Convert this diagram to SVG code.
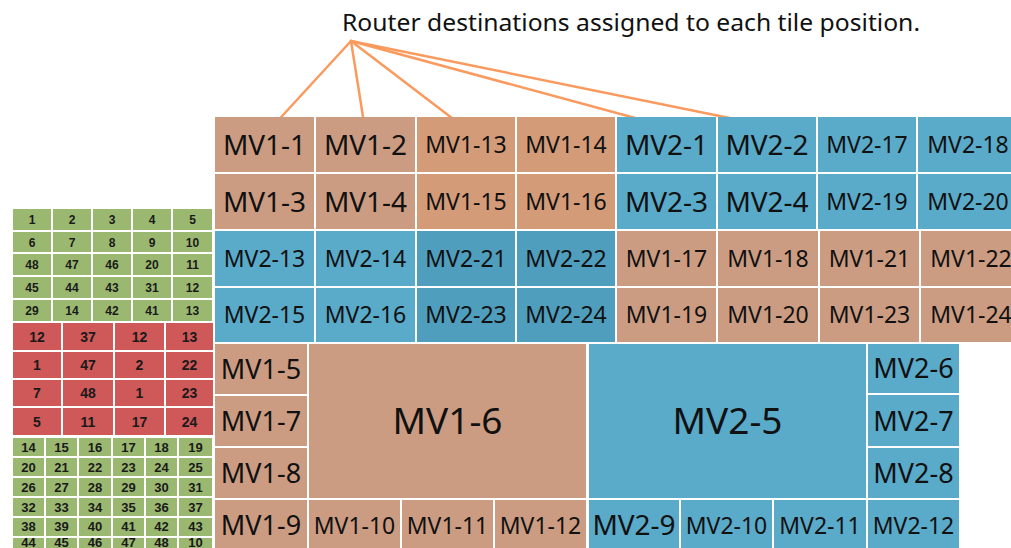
<svg xmlns="http://www.w3.org/2000/svg" width="1011" height="548" viewBox="0 0 1011 548">
<style>
.b{fill:#CC9C82}
.bo{fill:#D49B78}
.u{fill:#5AAAC9}
.ud{fill:#4F9EBE}
.g{fill:#9BB870}
.r{fill:#CF5858}
.t{font-family:"Noto Sans","Open Sans",sans-serif;fill:#111;text-anchor:middle}
.n{font-family:"Liberation Sans",Arial,sans-serif;font-weight:bold;fill:#1a1a1a;text-anchor:middle}
.s11{font-size:12px}.s12{font-size:14px}.s13{font-size:13px}
.f23{font-size:23px}.f27{font-size:27px}.f28{font-size:28px}.f37{font-size:37px}
.c{stroke:#FA9A5E;stroke-width:2.5;fill:none;stroke-linecap:round}
</style>
<rect width="1011" height="548" fill="#fff"/>
<text x="342" y="31" font-family="Noto Sans, Open Sans, sans-serif" font-size="23" fill="#111" textLength="578" lengthAdjust="spacingAndGlyphs">Router destinations assigned to each tile position.</text>
<g id="connectors">
<line class="c" x1="351" y1="41" x2="273" y2="126"/>
<line class="c" x1="351" y1="41" x2="364" y2="123"/>
<line class="c" x1="351" y1="41" x2="465" y2="128"/>
<line class="c" x1="351" y1="41" x2="661" y2="125"/>
<line class="c" x1="351" y1="41" x2="759" y2="124"/>
</g>
<!-- Main tiles row 1 -->
<g id="mv1-1"><rect class="b" x="215" y="117" width="99" height="55"/><text class="t f28" x="264.5" y="154.5">MV1-1</text></g>
<g id="mv1-2"><rect class="b" x="316" y="117" width="99" height="55"/><text class="t f28" x="365.5" y="154.5">MV1-2</text></g>
<g id="mv1-13"><rect class="bo" x="417" y="117" width="98" height="55"/><text class="t f23" x="466" y="152.7">MV1-13</text></g>
<g id="mv1-14"><rect class="bo" x="517" y="117" width="98" height="55"/><text class="t f23" x="566" y="152.7">MV1-14</text></g>
<g id="mv2-1"><rect class="u" x="617" y="117" width="99" height="55"/><text class="t f28" x="666.5" y="154.5">MV2-1</text></g>
<g id="mv2-2"><rect class="u" x="718" y="117" width="98" height="55"/><text class="t f28" x="767" y="154.5">MV2-2</text></g>
<g id="mv2-17"><rect class="u" x="818" y="117" width="98" height="55"/><text class="t f23" x="867" y="152.7">MV2-17</text></g>
<g id="mv2-18"><rect class="u" x="918" y="117" width="100" height="55"/><text class="t f23" x="968" y="152.7">MV2-18</text></g>
<!-- row 2 -->
<g id="mv1-3"><rect class="b" x="215" y="174" width="99" height="55"/><text class="t f28" x="264.5" y="211.5">MV1-3</text></g>
<g id="mv1-4"><rect class="b" x="316" y="174" width="99" height="55"/><text class="t f28" x="365.5" y="211.5">MV1-4</text></g>
<g id="mv1-15"><rect class="bo" x="417" y="174" width="98" height="55"/><text class="t f23" x="466" y="209.7">MV1-15</text></g>
<g id="mv1-16"><rect class="bo" x="517" y="174" width="98" height="55"/><text class="t f23" x="566" y="209.7">MV1-16</text></g>
<g id="mv2-3"><rect class="u" x="617" y="174" width="99" height="55"/><text class="t f28" x="666.5" y="211.5">MV2-3</text></g>
<g id="mv2-4"><rect class="u" x="718" y="174" width="98" height="55"/><text class="t f28" x="767" y="211.5">MV2-4</text></g>
<g id="mv2-19"><rect class="u" x="818" y="174" width="98" height="55"/><text class="t f23" x="867" y="209.7">MV2-19</text></g>
<g id="mv2-20"><rect class="u" x="918" y="174" width="100" height="55"/><text class="t f23" x="968" y="209.7">MV2-20</text></g>
<!-- row 3 -->
<g id="mv2-13"><rect class="u" x="215" y="231" width="99" height="55"/><text class="t f23" x="264.5" y="266.7">MV2-13</text></g>
<g id="mv2-14"><rect class="u" x="316" y="231" width="99" height="55"/><text class="t f23" x="365.5" y="266.7">MV2-14</text></g>
<g id="mv2-21"><rect class="ud" x="417" y="231" width="98" height="55"/><text class="t f23" x="466" y="266.7">MV2-21</text></g>
<g id="mv2-22"><rect class="ud" x="517" y="231" width="98" height="55"/><text class="t f23" x="566" y="266.7">MV2-22</text></g>
<g id="mv1-17"><rect class="b" x="617" y="231" width="99" height="55"/><text class="t f23" x="666.5" y="266.7">MV1-17</text></g>
<g id="mv1-18"><rect class="b" x="718" y="231" width="100" height="55"/><text class="t f23" x="768" y="266.7">MV1-18</text></g>
<g id="mv1-21"><rect class="b" x="820" y="231" width="99" height="55"/><text class="t f23" x="869.5" y="266.7">MV1-21</text></g>
<g id="mv1-22"><rect class="b" x="921" y="231" width="100" height="55"/><text class="t f23" x="971" y="266.7">MV1-22</text></g>
<!-- row 4 -->
<g id="mv2-15"><rect class="u" x="215" y="288" width="99" height="54"/><text class="t f23" x="264.5" y="323.2">MV2-15</text></g>
<g id="mv2-16"><rect class="u" x="316" y="288" width="99" height="54"/><text class="t f23" x="365.5" y="323.2">MV2-16</text></g>
<g id="mv2-23"><rect class="ud" x="417" y="288" width="98" height="54"/><text class="t f23" x="466" y="323.2">MV2-23</text></g>
<g id="mv2-24"><rect class="ud" x="517" y="288" width="98" height="54"/><text class="t f23" x="566" y="323.2">MV2-24</text></g>
<g id="mv1-19"><rect class="b" x="617" y="288" width="99" height="54"/><text class="t f23" x="666.5" y="323.2">MV1-19</text></g>
<g id="mv1-20"><rect class="b" x="718" y="288" width="100" height="54"/><text class="t f23" x="768" y="323.2">MV1-20</text></g>
<g id="mv1-23"><rect class="b" x="820" y="288" width="99" height="54"/><text class="t f23" x="869.5" y="323.2">MV1-23</text></g>
<g id="mv1-24"><rect class="b" x="921" y="288" width="100" height="54"/><text class="t f23" x="971" y="323.2">MV1-24</text></g>
<!-- lower section MV1 -->
<g id="mv1-5"><rect class="b" x="215" y="344" width="92" height="50"/><text class="t f27" x="261" y="378.6">MV1-5</text></g>
<g id="mv1-7"><rect class="b" x="215" y="396" width="92" height="50"/><text class="t f27" x="261" y="430.6">MV1-7</text></g>
<g id="mv1-8"><rect class="b" x="215" y="448" width="92" height="50"/><text class="t f27" x="261" y="482.6">MV1-8</text></g>
<g id="mv1-9"><rect class="b" x="215" y="500" width="92" height="55"/><text class="t f27" x="261" y="535">MV1-9</text></g>
<g id="mv1-6"><rect class="b" x="309" y="344" width="277" height="154"/><text class="t f37" x="447.5" y="434.2">MV1-6</text></g>
<g id="mv1-10"><rect class="b" x="309" y="500" width="91" height="55"/><text class="t f23" x="354.5" y="533.5">MV1-10</text></g>
<g id="mv1-11"><rect class="b" x="402" y="500" width="91" height="55"/><text class="t f23" x="447.5" y="533.5">MV1-11</text></g>
<g id="mv1-12"><rect class="b" x="495" y="500" width="91" height="55"/><text class="t f23" x="540.5" y="533.5">MV1-12</text></g>
<!-- lower section MV2 -->
<g id="mv2-5"><rect class="u" x="589" y="344" width="277" height="154"/><text class="t f37" x="727.5" y="434.2">MV2-5</text></g>
<g id="mv2-6"><rect class="u" x="868" y="344" width="91" height="49"/><text class="t f27" x="913.5" y="378">MV2-6</text></g>
<g id="mv2-7"><rect class="u" x="868" y="395" width="91" height="51"/><text class="t f27" x="913.5" y="430.6">MV2-7</text></g>
<g id="mv2-8"><rect class="u" x="868" y="448" width="91" height="50"/><text class="t f27" x="913.5" y="482.6">MV2-8</text></g>
<g id="mv2-9"><rect class="u" x="589" y="500" width="90" height="55"/><text class="t f28" x="634" y="535">MV2-9</text></g>
<g id="mv2-10"><rect class="u" x="681" y="500" width="91" height="55"/><text class="t f23" x="726.5" y="533.5">MV2-10</text></g>
<g id="mv2-11"><rect class="u" x="774" y="500" width="92" height="55"/><text class="t f23" x="820" y="533.5">MV2-11</text></g>
<g id="mv2-12"><rect class="u" x="868" y="500" width="91" height="55"/><text class="t f23" x="913.5" y="533.5">MV2-12</text></g>
<!-- left green grid (top) -->
<g id="green-top">
<rect class="g" x="13" y="209" width="38" height="21"/><rect class="g" x="53" y="209" width="38" height="21"/><rect class="g" x="93" y="209" width="38" height="21"/><rect class="g" x="133" y="209" width="38" height="21"/><rect class="g" x="173" y="209" width="39" height="21"/>
<rect class="g" x="13" y="232" width="38" height="20"/><rect class="g" x="53" y="232" width="38" height="20"/><rect class="g" x="93" y="232" width="38" height="20"/><rect class="g" x="133" y="232" width="38" height="20"/><rect class="g" x="173" y="232" width="39" height="20"/>
<rect class="g" x="13" y="254" width="38" height="21"/><rect class="g" x="53" y="254" width="38" height="21"/><rect class="g" x="93" y="254" width="38" height="21"/><rect class="g" x="133" y="254" width="38" height="21"/><rect class="g" x="173" y="254" width="39" height="21"/>
<rect class="g" x="13" y="277" width="38" height="21"/><rect class="g" x="53" y="277" width="38" height="21"/><rect class="g" x="93" y="277" width="38" height="21"/><rect class="g" x="133" y="277" width="38" height="21"/><rect class="g" x="173" y="277" width="39" height="21"/>
<rect class="g" x="13" y="300" width="38" height="21"/><rect class="g" x="53" y="300" width="38" height="21"/><rect class="g" x="93" y="300" width="38" height="21"/><rect class="g" x="133" y="300" width="38" height="21"/><rect class="g" x="173" y="300" width="39" height="21"/>
<g class="n s11">
<text x="32" y="224">1</text><text x="72" y="224">2</text><text x="112" y="224">3</text><text x="152" y="224">4</text><text x="192.5" y="224">5</text>
<text x="32" y="246.5">6</text><text x="72" y="246.5">7</text><text x="112" y="246.5">8</text><text x="152" y="246.5">9</text><text x="192.5" y="246.5">10</text>
<text x="32" y="269">48</text><text x="72" y="269">47</text><text x="112" y="269">46</text><text x="152" y="269">20</text><text x="192.5" y="269">11</text>
<text x="32" y="292">45</text><text x="72" y="292">44</text><text x="112" y="292">43</text><text x="152" y="292">31</text><text x="192.5" y="292">12</text>
<text x="32" y="315">29</text><text x="72" y="315">14</text><text x="112" y="315">42</text><text x="152" y="315">41</text><text x="192.5" y="315">13</text>
</g>
</g>
<!-- red grid -->
<g id="red-grid">
<rect class="r" x="13" y="323" width="48" height="27"/><rect class="r" x="63" y="323" width="50" height="27"/><rect class="r" x="115" y="323" width="49" height="27"/><rect class="r" x="166" y="323" width="47" height="27"/>
<rect class="r" x="13" y="352" width="48" height="26"/><rect class="r" x="63" y="352" width="50" height="26"/><rect class="r" x="115" y="352" width="49" height="26"/><rect class="r" x="166" y="352" width="47" height="26"/>
<rect class="r" x="13" y="380" width="48" height="26"/><rect class="r" x="63" y="380" width="50" height="26"/><rect class="r" x="115" y="380" width="49" height="26"/><rect class="r" x="166" y="380" width="47" height="26"/>
<rect class="r" x="13" y="408" width="48" height="27"/><rect class="r" x="63" y="408" width="50" height="27"/><rect class="r" x="115" y="408" width="49" height="27"/><rect class="r" x="166" y="408" width="47" height="27"/>
<g class="n s12">
<text x="37" y="341.5">12</text><text x="88" y="341.5">37</text><text x="139.5" y="341.5">12</text><text x="189.5" y="341.5">13</text>
<text x="37" y="370">1</text><text x="88" y="370">47</text><text x="139.5" y="370">2</text><text x="189.5" y="370">22</text>
<text x="37" y="398">7</text><text x="88" y="398">48</text><text x="139.5" y="398">1</text><text x="189.5" y="398">23</text>
<text x="37" y="426.5">5</text><text x="88" y="426.5">11</text><text x="139.5" y="426.5">17</text><text x="189.5" y="426.5">24</text>
</g>
</g>
<!-- bottom green grid -->
<g id="green-bottom">
<rect class="g" x="13" y="438" width="31" height="18"/><rect class="g" x="46" y="438" width="31" height="18"/><rect class="g" x="79" y="438" width="32" height="18"/><rect class="g" x="113" y="438" width="31" height="18"/><rect class="g" x="146" y="438" width="31" height="18"/><rect class="g" x="179" y="438" width="33" height="18"/>
<rect class="g" x="13" y="458" width="31" height="18"/><rect class="g" x="46" y="458" width="31" height="18"/><rect class="g" x="79" y="458" width="32" height="18"/><rect class="g" x="113" y="458" width="31" height="18"/><rect class="g" x="146" y="458" width="31" height="18"/><rect class="g" x="179" y="458" width="33" height="18"/>
<rect class="g" x="13" y="478" width="31" height="18"/><rect class="g" x="46" y="478" width="31" height="18"/><rect class="g" x="79" y="478" width="32" height="18"/><rect class="g" x="113" y="478" width="31" height="18"/><rect class="g" x="146" y="478" width="31" height="18"/><rect class="g" x="179" y="478" width="33" height="18"/>
<rect class="g" x="13" y="498" width="31" height="18"/><rect class="g" x="46" y="498" width="31" height="18"/><rect class="g" x="79" y="498" width="32" height="18"/><rect class="g" x="113" y="498" width="31" height="18"/><rect class="g" x="146" y="498" width="31" height="18"/><rect class="g" x="179" y="498" width="33" height="18"/>
<rect class="g" x="13" y="518" width="31" height="18"/><rect class="g" x="46" y="518" width="31" height="18"/><rect class="g" x="79" y="518" width="32" height="18"/><rect class="g" x="113" y="518" width="31" height="18"/><rect class="g" x="146" y="518" width="31" height="18"/><rect class="g" x="179" y="518" width="33" height="18"/>
<rect class="g" x="13" y="538" width="31" height="18"/><rect class="g" x="46" y="538" width="31" height="18"/><rect class="g" x="79" y="538" width="32" height="18"/><rect class="g" x="113" y="538" width="31" height="18"/><rect class="g" x="146" y="538" width="31" height="18"/><rect class="g" x="179" y="538" width="33" height="18"/>
<g class="n s13">
<text x="28.5" y="451.5">14</text><text x="61.5" y="451.5">15</text><text x="95" y="451.5">16</text><text x="128.5" y="451.5">17</text><text x="161.5" y="451.5">18</text><text x="195.5" y="451.5">19</text>
<text x="28.5" y="471.5">20</text><text x="61.5" y="471.5">21</text><text x="95" y="471.5">22</text><text x="128.5" y="471.5">23</text><text x="161.5" y="471.5">24</text><text x="195.5" y="471.5">25</text>
<text x="28.5" y="491.5">26</text><text x="61.5" y="491.5">27</text><text x="95" y="491.5">28</text><text x="128.5" y="491.5">29</text><text x="161.5" y="491.5">30</text><text x="195.5" y="491.5">31</text>
<text x="28.5" y="511.5">32</text><text x="61.5" y="511.5">33</text><text x="95" y="511.5">34</text><text x="128.5" y="511.5">35</text><text x="161.5" y="511.5">36</text><text x="195.5" y="511.5">37</text>
<text x="28.5" y="531">38</text><text x="61.5" y="531">39</text><text x="95" y="531">40</text><text x="128.5" y="531">41</text><text x="161.5" y="531">42</text><text x="195.5" y="531">43</text>
<text x="28.5" y="546.5">44</text><text x="61.5" y="546.5">45</text><text x="95" y="546.5">46</text><text x="128.5" y="546.5">47</text><text x="161.5" y="546.5">48</text><text x="195.5" y="546.5">10</text>
</g>
</g>
</svg>
